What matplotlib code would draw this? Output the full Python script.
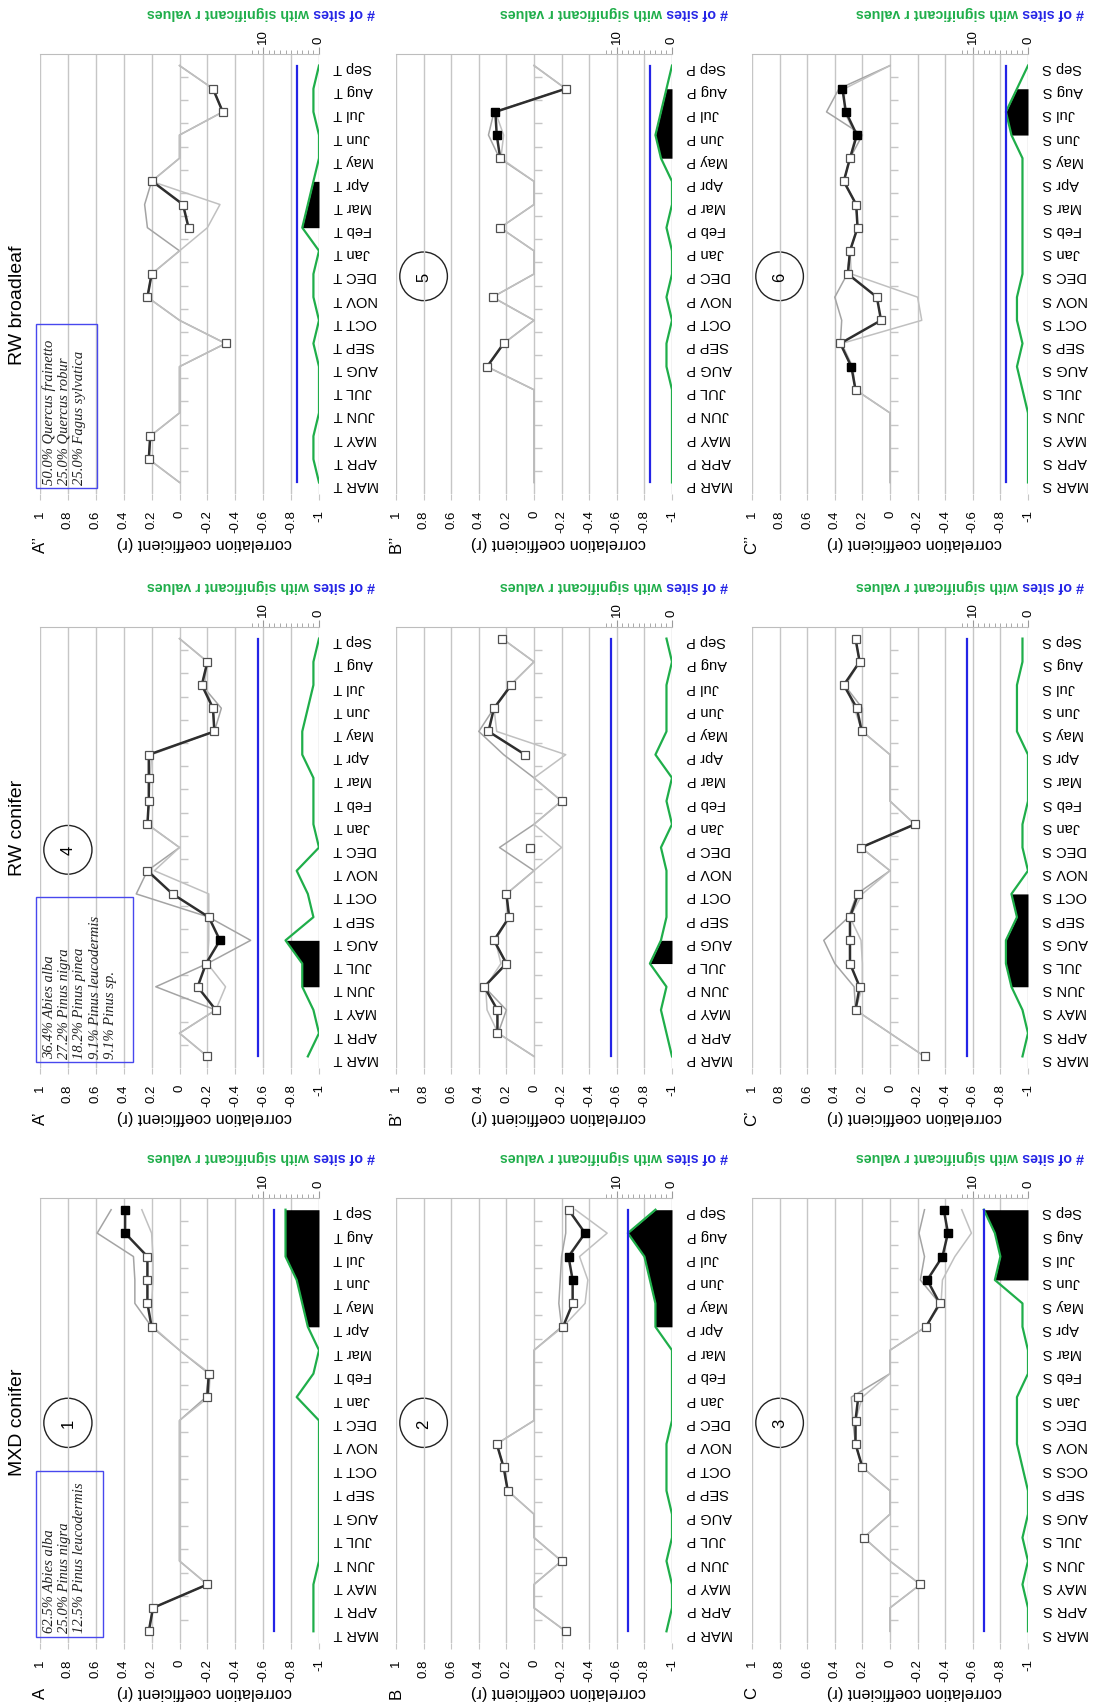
import numpy as np
import matplotlib
matplotlib.use('Agg')
import matplotlib.pyplot as plt
from matplotlib.patches import Ellipse, Rectangle

plt.rcParams['font.family'] = ['Liberation Sans', 'DejaVu Sans']

nan = np.nan

# 19 months, previous March .. current September
months = ['MAR', 'APR', 'MAY', 'JUN', 'JUL', 'AUG', 'SEP', 'OCT', 'NOV', 'DEC',
          'Jan', 'Feb', 'Mar', 'Apr', 'May', 'Jun', 'Jul', 'Aug', 'Sep']
labels_T = [m + ' T' for m in months]
labels_P = [m + ' P' for m in months]
labels_S = [m + ' S' for m in months]
labels_S_typo = labels_S[:7] + ['OCS S'] + labels_S[8:]

r_ticks = [1, 0.8, 0.6, 0.4, 0.2, 0, -0.2, -0.4, -0.6, -0.8, -1]
r_labels = ['1', '0.8', '0.6', '0.4', '0.2', '0', '-0.2', '-0.4', '-0.6', '-0.8', '-1']

# ---- MXD conifer ----
mean_A = [0.22, 0.19, -0.20, nan, nan, nan, nan, nan, nan, nan, -0.20, -0.21, nan, 0.20, 0.23, 0.23, 0.23, 0.39, 0.39]
ga_A = [0.22, 0.19, -0.20, 0, 0, 0, 0, 0, 0, 0, -0.19, -0.21, 0, 0.20, 0.32, 0.32, 0.33, 0.59, 0.49]
gb_A = [0.22, 0.19, -0.20, 0, 0, 0, 0, 0, 0, 0, -0.21, -0.22, 0, 0.19, 0.20, 0.19, 0.19, 0.20, 0.27]
sig_A = [17, 18]
nsig_A = [1, 1, 1, 0, 0, 0, 0, 0, 0, 0, 4, 1, 0, 2, 3, 4, 6, 6, 6]
fill_A = (13, 18)

mean_B = [-0.23, nan, nan, -0.20, nan, nan, 0.19, 0.22, 0.27, nan, nan, nan, nan, -0.21, -0.28, -0.28, -0.25, -0.37, -0.25]
ga_B = [-0.23, 0, 0, -0.20, 0, 0, 0.19, 0.22, 0.27, 0, 0, 0, 0, -0.20, -0.18, -0.19, -0.20, -0.23, -0.23]
gb_B = [-0.23, 0, 0, -0.20, 0, 0, 0.19, 0.22, 0.27, 0, 0, 0, 0, -0.21, -0.37, -0.39, -0.33, -0.53, -0.30]
sig_B = [15, 16, 17]
nsig_B = [1, 0, 0, 1, 0, 0, 1, 1, 1, 0, 0, 0, 0, 3, 3, 4, 5, 8, 3]
fill_B = (13, 18)

mean_C = [nan, nan, -0.22, nan, 0.19, nan, nan, 0.20, 0.25, 0.25, 0.23, nan, nan, -0.26, -0.36, -0.27, -0.38, -0.42, -0.39]
ga_C = [0, 0, -0.22, 0, 0.19, 0, 0, 0.20, 0.25, 0.27, 0.28, 0, 0, -0.26, -0.36, -0.22, -0.25, -0.21, -0.25]
gb_C = [0, 0, -0.22, 0, 0.19, 0, 0, 0.20, 0.25, 0.25, 0.20, 0, 0, -0.26, -0.37, -0.38, -0.47, -0.59, -0.52]
sig_C = [15, 16, 17, 18]
nsig_C = [0, 0, 1, 0, 1, 0, 0, 1, 2, 2, 2, 0, 0, 1, 1, 6, 5, 6, 8]
fill_C = (15, 18)

# ---- RW conifer ----
mean_A1 = [-0.20, nan, -0.26, -0.13, -0.19, -0.29, -0.21, 0.05, 0.23, nan, 0.23, 0.22, 0.22, 0.22, -0.25, -0.24, -0.16, -0.20, nan]
ga_A1 = [-0.20, 0, -0.26, 0.17, -0.20, -0.51, -0.21, 0.31, 0.23, 0, 0.23, 0.22, 0.22, 0.22, -0.25, -0.30, -0.16, -0.20, 0]
gb_A1 = [-0.20, 0, -0.26, -0.33, -0.20, -0.21, -0.21, -0.21, 0.18, 0, 0.23, 0.22, 0.21, 0.20, -0.25, -0.24, -0.18, -0.20, 0]
sig_A1 = [5]
nsig_A1 = [2, 0, 1, 3, 3, 6, 1, 2, 4, 0, 1, 1, 1, 3, 3, 2, 1, 1, 0]
fill_A1 = (3, 5)

mean_B1 = [nan, 0.265, 0.265, 0.36, 0.20, 0.29, 0.18, 0.20, nan, 0.03, nan, -0.20, nan, 0.065, 0.33, 0.29, 0.165, nan, 0.235]
ga_B1 = [0, 0.26, 0.20, 0.36, 0.20, 0.29, 0.18, 0.20, 0, 0.25, 0, -0.20, 0, 0.22, 0.40, 0.29, 0.17, 0, 0.23]
gb_B1 = [0, 0.26, 0.34, 0.35, 0.24, 0.28, 0.18, 0.20, 0, -0.20, 0, -0.20, 0, -0.23, 0.27, 0.29, 0.17, 0, 0.23]
sig_B1 = []
nsig_B1 = [0, 1, 2, 1, 4, 2, 1, 1, 1, 2, 0, 1, 0, 3, 1, 1, 1, 0, 1]
fill_B1 = (4, 5)

mean_C1 = [-0.25, nan, 0.25, 0.22, 0.29, 0.29, 0.29, 0.23, nan, 0.21, -0.18, nan, nan, nan, 0.205, 0.24, 0.335, 0.22, 0.25]
ga_C1 = [-0.25, 0, 0.25, 0.26, 0.40, 0.48, 0.30, 0.24, 0, 0.21, -0.18, 0, 0, 0, 0.20, 0.20, 0.33, 0.22, 0.25]
gb_C1 = [-0.25, 0, 0.25, 0.20, 0.20, 0.21, 0.29, 0.20, 0, 0.21, -0.18, 0, 0, 0, 0.20, 0.26, 0.32, 0.22, 0.25]
sig_C1 = []
nsig_C1 = [1, 0, 1, 3, 4, 4, 2, 3, 0, 1, 1, 0, 0, 0, 2, 2, 2, 1, 1]
fill_C1 = (3, 7)

# ---- RW broadleaf ----
mean_A2 = [nan, 0.22, 0.21, nan, nan, nan, -0.33, nan, 0.23, 0.20, nan, -0.065, -0.025, 0.195, nan, nan, -0.31, -0.24, nan]
ga_A2 = [0, 0.22, 0.21, 0, 0, 0, -0.33, 0, 0.23, 0.20, 0, 0.23, 0.25, 0.20, 0, 0, -0.31, -0.24, 0]
gb_A2 = [0, 0.22, 0.21, 0, 0, 0, -0.33, 0, 0.23, 0.20, 0, -0.20, -0.29, 0.20, 0, 0, -0.31, -0.24, 0]
sig_A2 = []
nsig_A2 = [0, 1, 1, 0, 0, 0, 1, 0, 1, 1, 0, 3, 2, 1, 0, 0, 1, 1, 0]
fill_A2 = (11, 13)

mean_B2 = [nan, nan, nan, nan, nan, 0.34, 0.22, nan, 0.30, nan, nan, 0.245, nan, nan, 0.245, 0.27, 0.28, -0.23, nan]
ga_B2 = [0, 0, 0, 0, 0, 0.34, 0.22, 0, 0.30, 0, 0, 0.245, 0, 0, 0.25, 0.33, 0.29, -0.23, 0]
gb_B2 = [0, 0, 0, 0, 0, 0.34, 0.22, 0, 0.30, 0, 0, 0.245, 0, 0, 0.24, 0.22, 0.28, -0.23, 0]
sig_B2 = [15, 16]
nsig_B2 = [0, 0, 0, 0, 0, 1, 1, 0, 1, 0, 0, 1, 0, 0, 2, 3, 2, 1, 0]
fill_B2 = (14, 17)

mean_C2 = [nan, nan, nan, nan, 0.25, 0.28, 0.36, 0.065, 0.095, 0.305, 0.29, 0.235, 0.245, 0.335, 0.29, 0.24, 0.32, 0.345, nan]
ga_C2 = [0, 0, 0, 0, 0.25, 0.28, 0.36, 0.35, 0.40, 0.31, 0.29, 0.235, 0.245, 0.335, 0.29, 0.20, 0.46, 0.37, 0]
gb_C2 = [0, 0, 0, 0, 0.25, 0.27, 0.35, -0.23, -0.20, 0.28, 0.29, 0.235, 0.245, 0.335, 0.29, 0.25, 0.33, 0.33, 0]
sig_C2 = [5, 15, 16, 17]
nsig_C2 = [0, 0, 0, 0, 1, 2, 1, 2, 2, 1, 1, 1, 1, 1, 1, 3, 4, 2, 0]
fill_C2 = (15, 17)

# number of sites in each group (blue line)
n_sites = {'MXD conifer': 8, 'RW conifer': 11, 'RW broadleaf': 4}

species_mxd = ['62.5% Abies alba', '25.0% Pinus nigra', '12.5% Pinus leucodermis']
species_rwc = ['36.4% Abies alba', '27.2% Pinus nigra', '18.2% Pinus pinea',
               '9.1% Pinus leucodermis', '9.1% Pinus sp.']
species_rwb = ['50.0% Quercus frainetto', '25.0% Quercus robur', '25.0% Fagus sylvatica']

GREEN = '#1fae4a'
BLUE = '#2424e6'
GRID = '#c6c6c6'

W, H = 1101, 1706
fig = plt.figure(figsize=(W / 100, H / 100), dpi=100)

col_px = [(40, 319), (396, 672), (752, 1028)]
row_px = [(55, 495), (628, 1069), (1199, 1644)]
group_of_row = ['RW broadleaf', 'RW conifer', 'MXD conifer']

panels = [
    # row, col, letter, labels, mean, ga, gb, sig, nsig, fill, circle, species
    (2, 0, 'A', labels_T, mean_A, ga_A, gb_A, sig_A, nsig_A, fill_A, '1', species_mxd),
    (2, 1, 'B', labels_P, mean_B, ga_B, gb_B, sig_B, nsig_B, fill_B, '2', None),
    (2, 2, 'C', labels_S_typo, mean_C, ga_C, gb_C, sig_C, nsig_C, fill_C, '3', None),
    (1, 0, 'A\u2019', labels_T, mean_A1, ga_A1, gb_A1, sig_A1, nsig_A1, fill_A1, '4', species_rwc),
    (1, 1, 'B\u2019', labels_P, mean_B1, ga_B1, gb_B1, sig_B1, nsig_B1, fill_B1, None, None),
    (1, 2, 'C\u2019', labels_S, mean_C1, ga_C1, gb_C1, sig_C1, nsig_C1, fill_C1, None, None),
    (0, 0, 'A\u2019\u2019', labels_T, mean_A2, ga_A2, gb_A2, sig_A2, nsig_A2, fill_A2, None, species_rwb),
    (0, 1, 'B\u2019\u2019', labels_P, mean_B2, ga_B2, gb_B2, sig_B2, nsig_B2, fill_B2, '5', None),
    (0, 2, 'C\u2019\u2019', labels_S, mean_C2, ga_C2, gb_C2, sig_C2, nsig_C2, fill_C2, '6', None),
]

box_right = {'MXD conifer': 0.55, 'RW conifer': 0.33, 'RW broadleaf': 0.59}
sec_labels = []

y = np.arange(len(months))
for row, col, letter, labels, mean, ga, gb, sig, nsig, fill, circ, species in panels:
    x0, x1 = col_px[col]
    y0, y1 = row_px[row]
    ax = fig.add_axes([x0 / W, 1 - y1 / H, (x1 - x0) / W, (y1 - y0) / H])
    group = group_of_row[row]

    ax.set_xlim(1, -1)
    ax.set_ylim(-0.5, len(months) - 0.5)
    ax.set_xticks(r_ticks)
    ax.set_xticklabels(r_labels)
    ax.tick_params(axis='x', labelrotation=90, labelsize=9.5, length=4, color=GRID, pad=7)
    ax.grid(axis='x', color=GRID, lw=1.0)

    # category axis: boundary ticks sitting on r = 0, labels at the right side
    ax.spines['left'].set_position(('data', 0))
    ax.spines['left'].set_color('none')
    for s in ['top', 'right', 'bottom']:
        ax.spines[s].set_visible(False)
    ax.set_yticks(y)
    ax.set_yticklabels(labels)
    ax.set_yticks(np.arange(0.5, len(months) - 1, 1.0), minor=True)
    ax.tick_params(axis='y', which='major', left=False, right=False, labelleft=False,
                   labelright=True, labelrotation=180, labelsize=10.5, pad=7)
    ax.tick_params(axis='y', which='minor', left=True, right=False, direction='in',
                   length=6, color=GRID, width=1.0)

    ax.plot(ga, y, color='#a4a4a4', lw=1.1)
    ax.plot(gb, y, color='#c0c0c0', lw=1.1)
    ax.plot(mean, y, color='#2e2e2e', lw=1.8)
    ax.plot(mean, y, ls='none', marker='s', ms=5.2, mfc='white', mec='#505050', mew=0.9)
    ax.plot([mean[i] for i in sig], [y[i] for i in sig], ls='none', marker='s', ms=5.2,
            mfc='black', mec='black', mew=0.9)

    # secondary axis: number of sites
    ax2 = ax.twiny()
    ax2.set_xlim(50, 0)
    ax2.set_xticks([0, 10])
    ax2.set_xticklabels(['0', '10'])
    ax2.set_xticks([1, 2, 3, 4, 5, 6, 7, 8, 9, 11, 12], minor=True)
    ax2.tick_params(axis='x', which='both', top=True, bottom=False, direction='out',
                    color='#9a9a9a', labelrotation=90, labelsize=9.5, pad=3)
    ax2.tick_params(axis='x', which='major', length=5)
    ax2.tick_params(axis='x', which='minor', length=3)
    for s in ['left', 'right', 'bottom']:
        ax2.spines[s].set_visible(False)
    ax2.spines['top'].set_color('#bdbdbd')

    i0, i1 = fill
    ax2.fill_betweenx(y[i0:i1 + 1], nsig[i0:i1 + 1], 0, color='black', lw=0)
    ax2.plot(nsig, y, color=GREEN, lw=1.6)
    ax2.plot([n_sites[group]] * len(months), y, color=BLUE, lw=1.6)

    if circ:
        ax.add_patch(Ellipse((0.8, 8.9), width=0.345, height=2.1, fill=False,
                             ec='#222222', lw=1.0))
        ax.text(0.8, 8.9, circ, rotation=90, ha='center', va='center', fontsize=12)

    if species:
        xr = box_right[group]
        ax.add_patch(Rectangle((xr, -0.23), 1.03 - xr, 7.08, fill=False, ec='#4848ee',
                               lw=1.0, clip_on=False, zorder=5))
        for k, line in enumerate(species):
            ax.text(0.935 - k * 0.11, -0.05, line, rotation=90, rotation_mode='anchor',
                    ha='left', va='center', fontsize=10.5, family='Liberation Serif',
                    style='italic', color='#222222', zorder=6)

    fig.text(x0 / W, 1 - (y1 + 49) / H, letter, rotation=90, ha='center', va='center',
             fontsize=12)
    fig.text((x0 + 0.59 * (x1 - x0)) / W, 1 - (y1 + 49) / H, 'correlation coefficient (r)',
             rotation=180, ha='center', va='center', fontsize=11.7)
    sec_labels.append((x1 + 56, y0 - 42))

# column titles
fig.text(18 / W, 1 - 1422 / H, 'MXD conifer', rotation=90, ha='center', va='center', fontsize=14)
fig.text(18 / W, 1 - 828 / H, 'RW conifer', rotation=90, ha='center', va='center', fontsize=14)
fig.text(18 / W, 1 - 305 / H, 'RW broadleaf', rotation=90, ha='center', va='center', fontsize=14)

# two-coloured secondary axis title, upside down
renderer = fig.canvas.get_renderer()
for px, py in sec_labels:
    t1 = fig.text(px / W, 1 - py / H, '# of sites', rotation=180, rotation_mode='anchor',
                  ha='left', va='center', color=BLUE, fontsize=10.3, fontweight='bold')
    w = t1.get_window_extent(renderer).width
    fig.text((px - w) / W, 1 - py / H, ' with significant r values', rotation=180,
             rotation_mode='anchor', ha='left', va='center', color=GREEN, fontsize=10.3,
             fontweight='bold')

fig.savefig('out.png', dpi=100)
